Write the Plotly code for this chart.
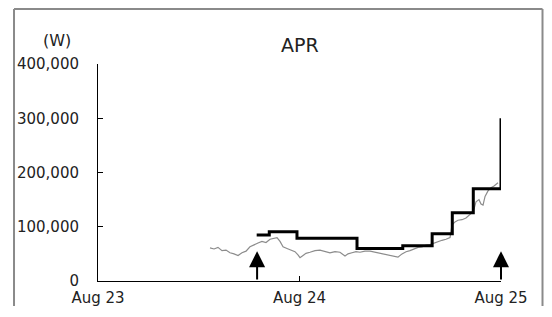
import pandas as pd
import plotly.graph_objects as go

START = pd.Timestamp("2023-08-23 00:00")

# Grey measured power line: hours after Aug 23 00:00, and watts
grey_hours = [13.34, 13.82, 14.29, 14.77, 15.25, 15.72, 16.20, 16.68, 17.15, 17.63,
              18.10, 18.58, 19.06, 19.53, 20.01, 20.49, 20.96, 21.32, 21.68, 22.04,
              22.51, 22.99, 23.46, 23.82, 24.06, 24.42, 24.77, 25.25, 25.85, 26.44,
              27.04, 27.63, 28.23, 28.82, 29.42, 29.78, 30.25, 30.73, 31.21, 31.80,
              32.40, 32.99, 33.59, 34.18, 34.78, 35.38, 35.73, 36.21, 36.69, 37.16,
              37.64, 38.12, 38.59, 39.07, 39.54, 40.02, 40.50, 40.97, 41.45, 41.93,
              42.16, 42.52, 42.88, 43.36, 43.83, 44.19, 44.55, 44.79, 45.02, 45.38,
              45.62, 45.86, 46.10, 46.45, 46.81, 47.17, 47.41, 47.64]
grey_watts = [61000, 59000, 62000, 56000, 57000, 52000, 50000, 47000, 52000, 55000,
              63000, 67000, 70000, 73000, 71000, 77000, 79000, 80000, 73000, 63000,
              60000, 57000, 54000, 48000, 43000, 47000, 51000, 53000, 56000, 57000,
              55000, 52000, 54000, 53000, 46000, 50000, 52000, 54000, 53000, 55000,
              55000, 53000, 52000, 50000, 48000, 46000, 44000, 50000, 54000, 56000,
              59000, 62000, 63000, 66000, 67000, 70000, 73000, 75000, 77000, 80000,
              103000, 109000, 112000, 113000, 116000, 122000, 126000, 133000, 146000, 150000,
              142000, 140000, 156000, 166000, 172000, 175000, 178000, 181000]

# Black step line (APR): hours after Aug 23 00:00, and watts
step_hours = [18.9, 20.4, 23.7, 30.85, 36.3, 39.8, 42.2, 44.7, 48.0]
step_watts = [85000, 91000, 79000, 60000, 65000, 87000, 126000, 170000, 300000]

# Event arrows: hours and arrow tip height
arrow_hours = [18.95, 48.0]
arrow_tip_watts = 55000

# Axis labels
y_ticks = [0, 100000, 200000, 300000, 400000]
x_ticks_hours = [0, 24, 48]


def to_time(hours):
    return [START + pd.Timedelta(hours=h) for h in hours]


FONT = "DejaVu Sans"
FRAME = dict(color="#8a8a8a", width=2)

fig = go.Figure()
fig.add_trace(go.Scatter(x=to_time(grey_hours), y=grey_watts, mode="lines",
                         line=dict(color="#8c8c8c", width=1.2), showlegend=False))
fig.add_trace(go.Scatter(x=to_time(step_hours), y=step_watts, mode="lines",
                         line=dict(color="black", width=3, shape="hv"), showlegend=False))

for t in to_time(arrow_hours):
    fig.add_annotation(x=t, y=arrow_tip_watts, ax=t, ay=0, axref="x", ayref="y",
                       xref="x", yref="y", text="", showarrow=True, arrowhead=2,
                       arrowwidth=2, arrowsize=1.6, arrowcolor="black")

fig.add_annotation(text="(W)", xref="paper", yref="paper", x=-0.102, y=1.11,
                   xanchor="center", yanchor="middle",
                   showarrow=False, font=dict(family=FONT, size=16, color="#222"))
fig.add_annotation(text="APR", xref="paper", yref="paper", x=0.5, y=1.087,
                   xanchor="center", yanchor="middle",
                   showarrow=False, font=dict(family=FONT, size=19, color="#222"))

# Outer chart frame (left, top, right edges)
fig.add_shape(type="line", xref="paper", yref="paper", x0=-0.2084, x1=-0.2084,
              y0=-0.3, y1=1.2535, line=FRAME)
fig.add_shape(type="line", xref="paper", yref="paper", x0=-0.2084, x1=1.103,
              y0=1.2535, y1=1.2535, line=FRAME)
fig.add_shape(type="line", xref="paper", yref="paper", x0=1.103, x1=1.103,
              y0=-0.3, y1=1.2535, line=FRAME)

# The page places the figure 8 px from the top-left corner of the window
fig.update_layout(
    width=536, height=298,
    margin=dict(l=90, r=43, t=56, b=25, autoexpand=False),
    paper_bgcolor="white", plot_bgcolor="white",
    font=dict(family=FONT, size=15, color="#222"),
    xaxis=dict(range=[START, START + pd.Timedelta(hours=48)],
               tickvals=to_time(x_ticks_hours), tickformat="%b %d",
               ticks="inside", ticklen=5, tickcolor="black",
               showline=True, linecolor="black", linewidth=1,
               showgrid=False, zeroline=False, ticklabelstandoff=3,
               automargin=False),
    yaxis=dict(range=[0, 400000], tickvals=y_ticks, tickformat=",",
               ticks="inside", ticklen=5, tickcolor="black",
               showline=True, linecolor="black", linewidth=1,
               showgrid=False, zeroline=False, ticklabelstandoff=15,
               automargin=False),
)

fig.write_html("out.html")
